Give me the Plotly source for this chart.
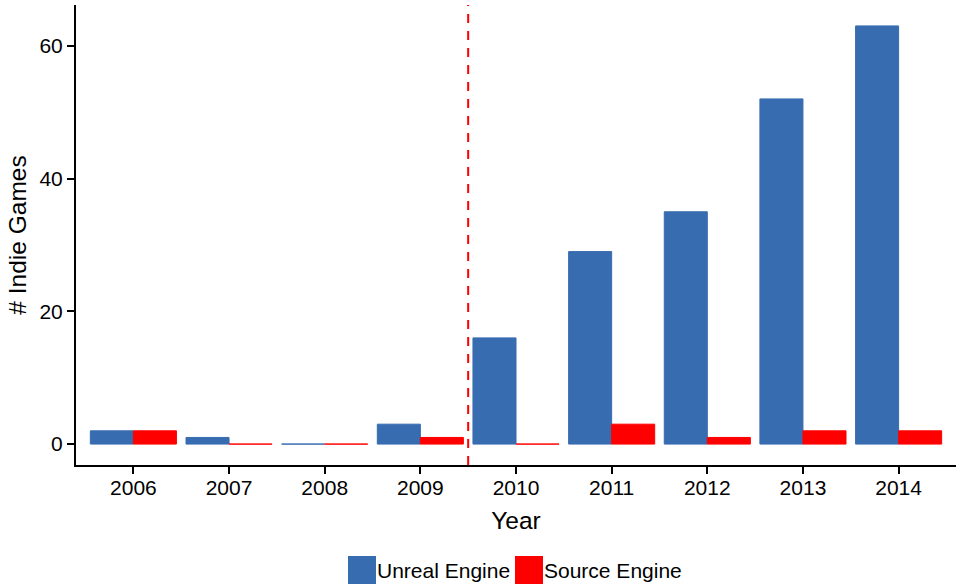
import plotly.graph_objects as go

years = ["2006", "2007", "2008", "2009", "2010", "2011", "2012", "2013", "2014"]
unreal = [2, 1, 0, 3, 16, 29, 35, 52, 63]
source = [2, 0, 0, 1, 0, 3, 1, 2, 2]
series_names = ["Unreal Engine", "Source Engine"]
cutoff_position = 3.5  # between 2009 and 2010
y_ticks = [0, 20, 40, 60]

BLUE = "#386CB0"
RED = "#FF0000"
FONT = "Liberation Sans, Arial, Helvetica, sans-serif"

fig = go.Figure()
for name, vals, col in [(series_names[0], unreal, BLUE), (series_names[1], source, RED)]:
    fig.add_trace(go.Bar(
        x=years, y=vals, name=name,
        marker=dict(color=col, line=dict(color=col, width=1)),
        showlegend=False,
    ))

fig.add_shape(type="line", xref="x", yref="paper",
              x0=cutoff_position, x1=cutoff_position, y0=0, y1=1,
              line=dict(color=RED, width=2, dash="9px,8px"))

# manual legend (ggplot-style large keys)
W, H = 958, 584
L, R, T, B = 76, 2, 5, 119
pw, ph = W - L - R, H - T - B
def px(xp):
    return (xp - L) / pw
def py(yp):
    return (H - B - yp) / ph

legend_items = [(series_names[0], BLUE, 348), (series_names[1], RED, 515)]
for name, col, x0 in legend_items:
    fig.add_shape(type="rect", xref="paper", yref="paper",
                  x0=px(x0), x1=px(x0 + 28), y0=py(584), y1=py(556),
                  fillcolor=col, line=dict(width=0))
    fig.add_annotation(xref="paper", yref="paper", x=px(x0 + 29), y=py(570),
                       text=name, showarrow=False, xanchor="left", yanchor="middle",
                       xshift=-2,
                       font=dict(family=FONT, size=21, color="black"))

fig.update_layout(
    width=W, height=H,
    margin=dict(l=L, r=R, t=T, b=B),
    paper_bgcolor="white", plot_bgcolor="white",
    barmode="group", bargap=0.1, bargroupgap=0,
    font=dict(family=FONT, color="black"),
)
fig.update_xaxes(
    type="category", range=[-0.6, 8.6],
    showline=True, linecolor="black", linewidth=2,
    ticks="outside", ticklen=7, tickwidth=1.5, tickcolor="black",
    tickfont=dict(size=21, color="black"), ticklabelstandoff=-4,
    showgrid=False, zeroline=False,
    title=dict(text="Year", font=dict(size=24.5, color="black"), standoff=14),
)
fig.update_yaxes(
    range=[-3.15, 66.15], tickvals=y_ticks,
    showline=True, linecolor="black", linewidth=2,
    ticks="outside", ticklen=7, tickwidth=1.5, tickcolor="black",
    tickfont=dict(size=21, color="black"),
    showgrid=False, zeroline=False,
    title=dict(text="# Indie Games", font=dict(size=24.5, color="black"), standoff=6),
)

fig.write_html("out.html", config={"displayModeBar": False},
               post_script="document.body.style.margin='0';document.body.style.padding='0';")
